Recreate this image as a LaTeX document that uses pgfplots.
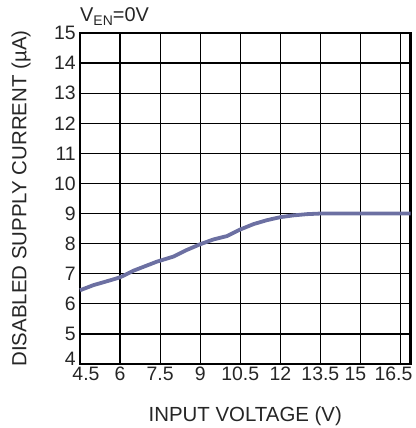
\documentclass[border=0pt]{standalone}
\usepackage{fontspec}
\setmainfont{Liberation Sans}
\usepackage{pgfplots}
\pgfplotsset{compat=1.18}
\definecolor{curve}{HTML}{6C70A2}
\begin{document}
\begin{tikzpicture}
\begin{axis}[
  scale only axis,
  width=330.5bp, height=331bp,
  xmin=4.5, xmax=16.875, ymin=4, ymax=15,
  xtick={4.5,6,7.5,9,10.5,12,13.5,15,16.5},
  xticklabels={{\kern12bp 4.5},6,7.5,9,10.5,12,13.5,{15\kern10bp},{16.5\kern14bp}},
  ytick={4,5,6,7,8,9,10,11,12,13,14,15},
  yticklabels={{\raisebox{11bp}{4}},5,6,7,8,9,10,11,12,13,14,15},
  major tick length=0pt,
  grid=major,
  major grid style={black, line width=1.2bp},
  axis line style={black, line width=2.6bp},
  /pgf/number format/assume math mode=true,
  tick label style={font=\fontsize{19.5}{22}\selectfont, black!85},
  xticklabel style={inner sep=2.5bp},
  yticklabel style={inner sep=4bp},
  xlabel={INPUT VOLTAGE (V)},
  ylabel={DISABLED SUPPLY CURRENT (\textmu A)},
  every axis x label/.style={at={(rel axis cs:0.5,0)}, anchor=base, yshift=-57bp, font=\fontsize{20.5}{24}\selectfont, black!85},
  every axis y label/.style={at={(rel axis cs:0,0.5)}, xshift=-59bp, rotate=90, anchor=center, font=\fontsize{20.5}{24}\selectfont, black!85},
  clip=false,
]
\addplot[curve, line width=3.8bp, line join=round] coordinates {
(4.5,6.45) (5.0,6.62) (5.625,6.78) (6.0,6.88) (6.5,7.1) (7.375,7.40) (8.0,7.57)
(8.5,7.79) (9.0,7.98) (9.5,8.14) (10.0,8.25) (10.5,8.47) (11.0,8.65) (11.5,8.78)
(12.0,8.88) (12.5,8.94) (13.0,8.98) (13.5,9.0) (14.5,9.0) (15.5,9.0) (16.875,9.0)
};
\coordinate (sw) at (rel axis cs:0,0);
\coordinate (nw) at (rel axis cs:0,1);
\end{axis}
\node[anchor=base west, inner sep=0pt, black!85, font=\fontsize{20}{24}\selectfont] at ([yshift=11bp]nw) {V\raisebox{-4bp}{\fontsize{14}{14}\selectfont EN}=0V};
\pgfresetboundingbox
\path ([shift={(-80bp,-64bp)}]sw) rectangle ++(416bp,428bp);
\end{tikzpicture}
\end{document}
